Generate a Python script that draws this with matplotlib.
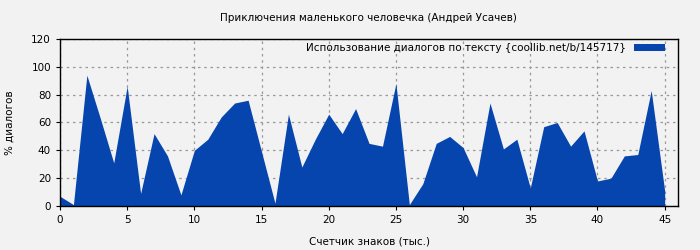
import matplotlib
matplotlib.use('Agg')
import matplotlib.pyplot as plt
import numpy as np

# значения по тысячам знаков
kchars = np.arange(0, 46)
dialog_pct = [7, 1, 94, 63, 31, 86, 9, 52, 36, 8,
              40, 48, 64, 74, 76, 39, 2, 66, 28, 48,
              66, 52, 70, 45, 43, 88, 1, 16, 45, 50,
              42, 21, 74, 41, 48, 13, 57, 60, 43, 54,
              18, 20, 36, 37, 83, 11]

title = 'Приключения маленького человечка (Андрей Усачев)'
legend_label = 'Использование диалогов по тексту {coollib.net/b/145717}'

bg = '#f2f2f2'
blue = '#0645ad'

plt.rcParams['font.family'] = ['DejaVu Sans']
plt.rcParams['font.size'] = 7.5

fig = plt.figure(figsize=(7, 2.5), dpi=100, facecolor=bg)
ax = fig.add_axes([0.0857, 0.176, 0.883, 0.668], facecolor=bg)

ax.fill_between(kchars, dialog_pct, 0, color=blue, linewidth=0, label=legend_label)

ax.set_xlim(0, 46)
ax.set_ylim(0, 120)
ax.set_xticks(range(0, 46, 5))
ax.set_yticks(range(0, 121, 20))
ax.grid(True, color='#999999', linestyle=(0, (2, 3)), linewidth=0.9)
ax.set_axisbelow(True)
ax.tick_params(direction='out', length=3, width=0.8, colors='black', labelsize=7.5)
for s in ax.spines.values():
    s.set_linewidth(1.0)

fig.text(0.527, 0.928, title, ha='center', va='center', fontsize=7.5)
ax.set_xlabel('Счетчик знаков (тыс.)', fontsize=7.5, labelpad=8)
ax.set_ylabel('% диалогов', fontsize=7.5, labelpad=12)

leg = ax.legend(loc='upper right', bbox_to_anchor=(0.990, 1.018), frameon=False,
                markerfirst=False, handlelength=2.9, handleheight=0.7,
                borderaxespad=0.3, handletextpad=0.8, fontsize=7.5)

fig.savefig('out.png', dpi=100, facecolor=bg)
